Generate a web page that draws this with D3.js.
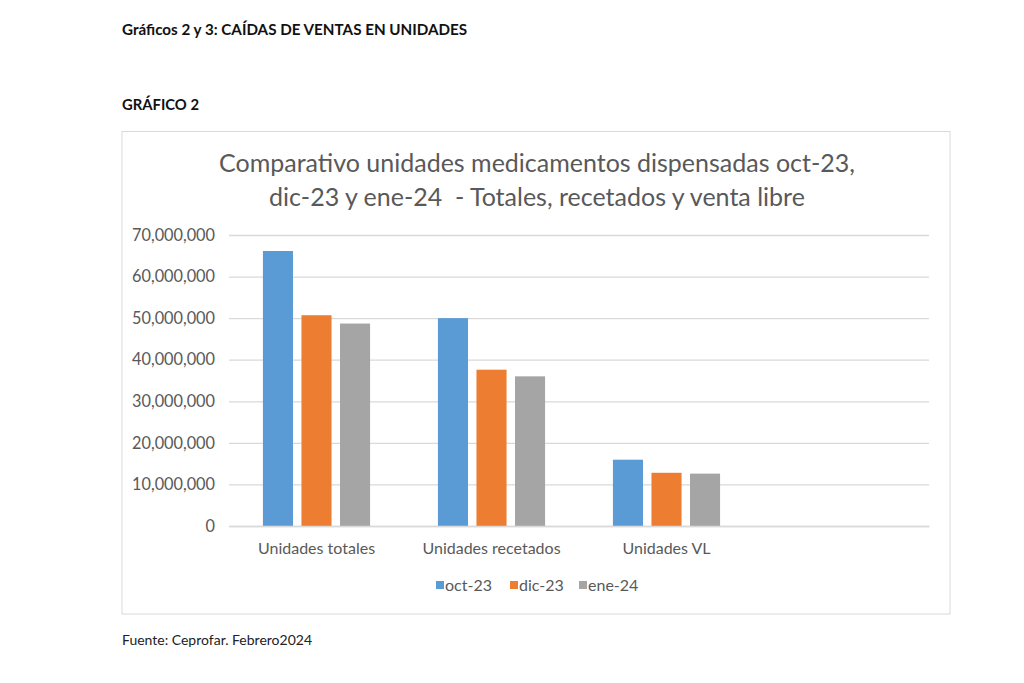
<!DOCTYPE html>
<html><head><meta charset="utf-8">
<script src="https://cdn.jsdelivr.net/npm/d3@7/dist/d3.min.js"></script>
<style>body{margin:0;background:#fff}svg{display:block}</style>
</head><body>
<script>
const categories = ["Unidades totales", "Unidades recetados", "Unidades VL", ""];
const seriesNames = ["oct-23", "dic-23", "ene-24"];
const oct23 = [66150000, 50000000, 15950000, null];
const dic23 = [50700000, 37600000, 12800000, null];
const ene24 = [48700000, 36000000, 12600000, null];
const yTicks = [0, 10000000, 20000000, 30000000, 40000000, 50000000, 60000000, 70000000];
const colors = ["#5b9bd5", "#ed7d31", "#a5a5a5"];
const values = [oct23, dic23, ene24];

const W = 1024, H = 683;
const svg = d3.select("body").append("svg").attr("width", W).attr("height", H);
const font = "Lato, 'Open Sans', sans-serif";

svg.append("text").attr("x", 122).attr("y", 35).attr("font-family", font)
  .attr("font-weight", "bold").attr("font-size", 15.2).attr("fill", "#111")
  .text("Gráficos 2 y 3: CAÍDAS DE VENTAS EN UNIDADES");
svg.append("text").attr("x", 122).attr("y", 110).attr("font-family", font)
  .attr("font-weight", "bold").attr("font-size", 14.8).attr("fill", "#111")
  .text("GRÁFICO 2");
svg.append("text").attr("x", 122).attr("y", 645).attr("font-family", font)
  .attr("font-size", 14).attr("fill", "#222")
  .text("Fuente: Ceprofar. Febrero2024");

svg.append("rect").attr("x", 122).attr("y", 131.5).attr("width", 828).attr("height", 482.5)
  .attr("fill", "#fff").attr("stroke", "#d9d9d9").attr("stroke-width", 1);

const title = svg.append("text").attr("font-family", font).attr("font-size", 25)
  .attr("fill", "#595959").attr("text-anchor", "middle").style("white-space", "pre");
title.append("tspan").attr("x", 537).attr("y", 172).text("Comparativo unidades medicamentos dispensadas oct-23,");
title.append("tspan").attr("x", 537).attr("y", 206).text("dic-23 y ene-24  - Totales, recetados y venta libre");

const x = d3.scaleBand().domain(categories.map((c, i) => i)).range([229, 929]);
const xs = d3.scaleBand().domain(seriesNames).range([0, x.bandwidth()]).paddingInner(0.22).paddingOuter(0.88);
const y = d3.scaleLinear().domain([0, 70000000]).range([526, 235]);

const gy = svg.append("g").attr("transform", "translate(229,0)")
  .call(d3.axisLeft(y).tickValues(yTicks).tickSize(-700).tickFormat(d3.format(",")));
gy.select(".domain").remove();
gy.selectAll(".tick line").attr("stroke", "#d9d9d9").attr("stroke-width", 1.3);
gy.selectAll(".tick text").attr("x", -14).attr("font-family", font).attr("font-size", 16.3).attr("fill", "#595959");

seriesNames.forEach((s, si) => {
  svg.append("g").selectAll("rect").data(values[si].map((v, i) => ({v, i})).filter(d => d.v != null))
    .join("rect")
    .attr("x", d => x(d.i) + xs(s))
    .attr("width", xs.bandwidth())
    .attr("y", d => y(d.v))
    .attr("height", d => y(0) - y(d.v))
    .attr("fill", colors[si]);
});

const gx = svg.append("g").attr("transform", "translate(0,526)")
  .call(d3.axisBottom(x).tickSize(0).tickFormat(i => categories[i]));
gx.select(".domain").attr("stroke", "#d9d9d9").attr("stroke-width", 1.3);
gx.selectAll(".tick text").attr("dy", 0).attr("y", 28).attr("font-family", font).attr("font-size", 16).attr("fill", "#595959");

const legX = [436, 510, 579];
seriesNames.forEach((s, i) => {
  const g = svg.append("g").attr("transform", `translate(${legX[i]},581)`);
  g.append("rect").attr("width", 8).attr("height", 8).attr("fill", colors[i]);
  g.append("text").attr("x", 9).attr("y", 9.5).attr("font-family", font).attr("font-size", 16)
    .attr("fill", "#595959").text(s);
});
</script>
</body></html>
